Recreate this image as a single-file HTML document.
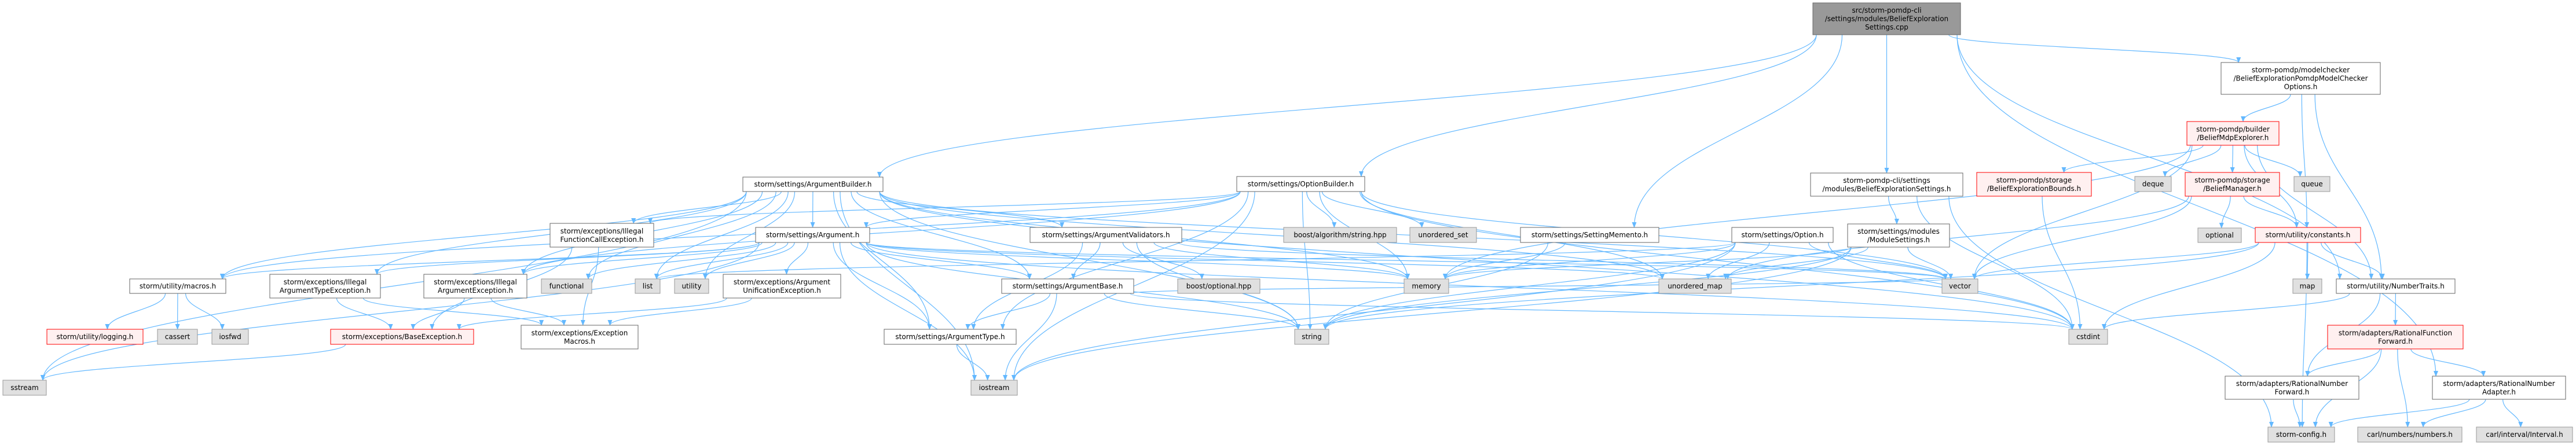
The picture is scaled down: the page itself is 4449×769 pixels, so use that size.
<!DOCTYPE html>
<html><head><meta charset="utf-8"><style>
html,body{margin:0;padding:0;background:#fff;}
svg{display:block;}
text{font-family:"DejaVu Sans","Liberation Sans",sans-serif;font-size:12px;fill:#000;}
</style></head><body>
<svg id="g" width="4449" height="769" xmlns="http://www.w3.org/2000/svg">
<defs><marker id="ar" markerWidth="10" markerHeight="8" refX="9" refY="4" orient="auto" markerUnits="userSpaceOnUse"><path d="M0,0 L10,4 L0,8 z" fill="#63b8ff"/></marker></defs>
<g id="edges" fill="none" stroke="#63b8ff" stroke-width="1.2"></g>
<g id="nodes"></g>
</svg>
<div style="display:none">
src/storm-pomdp-cli/settings/modules/BeliefExplorationSettings.cpp
</div>
<script>
var N={
T:[3131,5,3386,60,["src/storm-pomdp-cli","/settings/modules/BeliefExploration","Settings.cpp"],"top"],
AB:[1283,306,1525,331,["storm/settings/ArgumentBuilder.h"],"w"],
OB:[2136,305,2357,331,["storm/settings/OptionBuilder.h"],"w"],
BES:[3127,299,3390,339,["storm-pomdp-cli/settings","/modules/BeliefExplorationSettings.h"],"w"],
MCO:[3836,108,4111,163,["storm-pomdp/modelchecker","/BeliefExplorationPomdpModelChecker","Options.h"],"w"],
BME:[3777,210,3936,251,["storm-pomdp/builder","/BeliefMdpExplorer.h"],"r"],
BEB:[3414,298,3612,339,["storm-pomdp/storage","/BeliefExplorationBounds.h"],"r"],
deque:[3687,305,3750,331,["deque"],"g"],
BM:[3774,298,3937,339,["storm-pomdp/storage","/BeliefManager.h"],"r"],
queue:[3962,305,4024,331,["queue"],"g"],
IFC:[950,386,1129,427,["storm/exceptions/Illegal","FunctionCallException.h"],"w"],
Arg:[1305,393,1502,419,["storm/settings/Argument.h"],"w"],
AV:[1779,393,2041,419,["storm/settings/ArgumentValidators.h"],"w"],
balg:[2217,393,2412,419,["boost/algorithm/string.hpp"],"g"],
uset:[2435,393,2550,419,["unordered_set"],"g"],
SM:[2626,393,2865,419,["storm/settings/SettingMemento.h"],"w"],
Opt:[2991,393,3166,419,["storm/settings/Option.h"],"w"],
MS:[3191,387,3367,427,["storm/settings/modules","/ModuleSettings.h"],"w"],
optional:[3796,394,3871,419,["optional"],"g"],
cons:[3895,393,4077,419,["storm/utility/constants.h"],"r"],
macros:[224,482,390,507,["storm/utility/macros.h"],"w"],
IATE:[466,474,657,515,["storm/exceptions/Illegal","ArgumentTypeException.h"],"w"],
IAE:[732,474,910,515,["storm/exceptions/Illegal","ArgumentException.h"],"w"],
functional:[935,482,1022,507,["functional"],"g"],
list:[1097,482,1140,507,["list"],"g"],
utility:[1165,482,1224,507,["utility"],"g"],
AUE:[1249,474,1452,515,["storm/exceptions/Argument","UnificationException.h"],"w"],
ABase:[1730,482,1958,507,["storm/settings/ArgumentBase.h"],"w"],
bopt:[2034,482,2176,507,["boost/optional.hpp"],"g"],
memory:[2425,482,2502,507,["memory"],"g"],
umap:[2865,482,2990,507,["unordered_map"],"g"],
vector:[3354,482,3416,507,["vector"],"g"],
map:[3960,482,4010,507,["map"],"g"],
NT:[4035,482,4240,507,["storm/utility/NumberTraits.h"],"w"],
logging:[81,569,247,595,["storm/utility/logging.h"],"r"],
cassert:[272,569,341,595,["cassert"],"g"],
iosfwd:[366,569,429,595,["iosfwd"],"g"],
BE:[571,569,818,595,["storm/exceptions/BaseException.h"],"r"],
EM:[900,562,1102,603,["storm/exceptions/Exception","Macros.h"],"w"],
AT:[1527,569,1755,595,["storm/settings/ArgumentType.h"],"w"],
string:[2236,569,2295,595,["string"],"g"],
cstdint:[3573,569,3640,595,["cstdint"],"g"],
RFF:[4020,562,4254,603,["storm/adapters/RationalFunction","Forward.h"],"r"],
sstream:[5,657,80,683,["sstream"],"g"],
iostream:[1677,657,1757,683,["iostream"],"g"],
RNF:[3843,650,4074,690,["storm/adapters/RationalNumber","Forward.h"],"w"],
RNA:[4201,650,4431,690,["storm/adapters/RationalNumber","Adapter.h"],"w"],
config:[3917,738,4032,764,["storm-config.h"],"g"],
cnum:[4072,738,4252,764,["carl/numbers/numbers.h"],"g"],
cint:[4277,738,4443,764,["carl/interval/Interval.h"],"g"]
};
var E={
T:["AB","OB","SM","BES","MCO","NT","RNA"],
AB:["macros","IFC","IATE","IAE","functional","list","utility","Arg","AV","ABase","AT","string","memory","iostream","sstream","vector","umap","cstdint"],
OB:["macros","IFC","IAE","Arg","AT","string","memory","vector","umap","uset","balg","cstdint","iostream"],
Arg:["IAE","IATE","AUE","functional","list","utility","ABase","AT","iostream","string","memory","vector","umap","macros","cstdint","sstream"],
AV:["bopt","ABase","string","memory","vector","AT"],
ABase:["AT","iostream","string","cstdint","vector"],
AT:["iostream"],
IFC:["BE","EM"],IATE:["BE","EM"],IAE:["BE","EM"],AUE:["BE","EM"],
macros:["logging","cassert","iosfwd"],
BE:["sstream"],
SM:["memory","string"],
Opt:["memory","umap","string","vector","cstdint","iostream","list"],
MS:["memory","umap","string","vector","iostream"],
BES:["MS","config","cstdint"],
MCO:["BME","NT","cons"],
BME:["BEB","deque","BM","queue","memory","vector","NT","cons"],
BM:["optional","cons","vector","umap"],
BEB:["cstdint"],
cons:["map","NT","vector","cstdint","string","config"],
NT:["cstdint","RFF","RNF"],
RFF:["RNF","RNA","config","cnum"],
RNF:["config"],
RNA:["config","cnum","cint"]
};
var ns="http://www.w3.org/2000/svg";
var eg=document.getElementById("edges"),ng=document.getElementById("nodes");
function el(t,a,p){var e=document.createElementNS(ns,t);for(var k in a)e.setAttribute(k,a[k]);p.appendChild(e);return e;}
for(var s in E){var a=N[s];var scx=(a[0]+a[2])/2,sw=a[2]-a[0];
E[s].forEach(function(t,i){var b=N[t];var tcx=(b[0]+b[2])/2,tw=b[2]-b[0];
var sx=scx+Math.max(-sw/2+6,Math.min(sw/2-6,(tcx-scx)*0.15));
var sy=a[3];
var tx=tcx+Math.max(-tw/2+6,Math.min(tw/2-6,(scx-tcx)*0.15));
var ty=b[1];var dy=ty-sy;
el("path",{d:"M"+sx+","+sy+" C"+sx+","+(sy+dy*0.45)+" "+tx+","+(ty-dy*0.45)+" "+tx+","+ty,"marker-end":"url(#ar)"},eg);});}
for(var k in N){var n=N[k];var fill="#fff",st="#666";
if(n[5]=="g"){fill="#e0e0e0";st="#999";}if(n[5]=="r"){fill="#fff0f0";st="#f00";}if(n[5]=="top"){fill="#999";st="#666";}
el("rect",{x:n[0],y:n[1],width:n[2]-n[0],height:n[3]-n[1],fill:fill,stroke:st,"stroke-width":1},ng);
var L=n[4],h=n[3]-n[1],cy=n[1]+h/2-(L.length-1)*7.25;
L.forEach(function(l,i){var t=el("text",{x:(n[0]+n[2])/2,y:cy+i*14.5+4,"text-anchor":"middle"},ng);t.textContent=l;});}
</script>
</body></html>
